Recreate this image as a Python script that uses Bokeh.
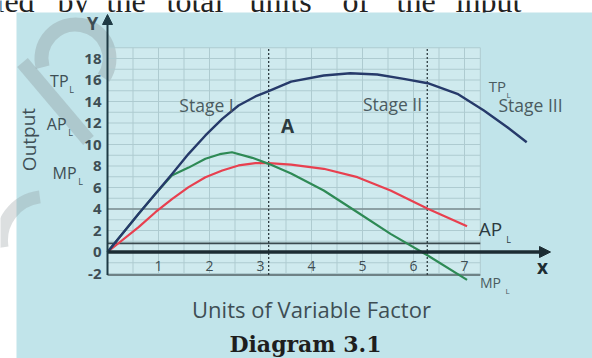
from bokeh.plotting import figure
from bokeh.models import Arrow, NormalHead
from bokeh.core.properties import value
from bokeh.embed import file_html
from bokeh.resources import INLINE

# ---------------- data ----------------
tp_x = [0, 0.61, 0.94, 1.27, 1.59, 1.92, 2.25, 2.57, 2.90, 3.16, 3.6, 4.24, 4.76, 5.29, 5.81, 6.28, 6.86, 7.38, 7.84, 8.22]
tp_y = [0, 3.55, 5.41, 7.27, 9.13, 10.84, 12.39, 13.63, 14.47, 14.96, 15.85, 16.42, 16.63, 16.51, 16.11, 15.70, 14.72, 13.16, 11.61, 10.21]

mp_x = [0, 0.61, 0.94, 1.27, 1.59, 1.92, 2.2, 2.44, 2.84, 3.16, 3.6, 4.24, 4.9, 5.55, 6.28, 7.05]
mp_y = [0, 3.55, 5.41, 7.15, 7.85, 8.67, 9.1, 9.28, 8.76, 8.2, 7.3, 5.72, 3.70, 1.69, -0.33, -2.59]

ap_x = [0, 0.61, 0.94, 1.27, 1.59, 1.92, 2.25, 2.57, 2.90, 3.16, 3.6, 4.24, 4.90, 5.55, 6.28, 7.05]
ap_y = [0, 2.31, 3.70, 4.95, 6.03, 6.96, 7.58, 8.05, 8.26, 8.26, 8.12, 7.74, 6.96, 5.72, 4.02, 2.40]

y_ticks = [18, 16, 14, 12, 10, 8, 6, 4, 2, 0, -2]
y_tick_labels = ["18", "16", "14", "12", "10", "8", "6", "4", "2", "0", "-2"]
x_ticks = [1, 2, 3, 4, 5, 6, 7]
x_tick_labels = ["1", "2", "3", "4", "5", "6", "7"]

stage_bounds = [3.16, 6.27]
grid_rows = list(range(-2, 20))
grid_cols = [0.5 * i for i in range(1, 15)] + [7.31]
ref_levels = [4, 0.8, -2.15]

header_words = ["ied", "by", "the", "total", "units", "of", "the", "input"]
header_px = [-5, 57, 106, 166, 249, 342, 396, 455]

# ---------------- geometry (pixel -> data) ----------------
PX0, PXU = 107.0, 51.0
PY0, PYU = 251.5, 10.75
def dx(px):
    return (px - PX0) / PXU
def dy(py):
    return (PY0 - py) / PYU

W, H = 592, 358
p = figure(width=W, height=H, output_backend="svg", toolbar_location=None,
           x_range=(dx(0), dx(W)), y_range=(dy(H), dy(0)),
           x_axis_type=None, y_axis_type=None, min_border=0,
           outline_line_color=None, background_fill_color="white",
           border_fill_color="white")

BG = "#c1e4ea"
INNER = "#cfeaee"
GRID = "#aecbd0"
TXT = "#3e4e54"
FONT = value("Open Sans")

# header text (cropped line of book text), drawn first so the panel covers its descenders
p.text(x=[dx(v) for v in header_px], y=[dy(0)] * len(header_words), text=header_words,
       text_font=value("Liberation Serif"), text_font_size="32px",
       text_color="#222222", text_baseline="middle", text_align="left")

# background panel
p.quad(left=[dx(16)], right=[dx(620)], bottom=[dy(400)], top=[dy(12)],
       fill_color=BG, line_color=None)
# lighter grid area
p.quad(left=[0], right=[7.31], bottom=[-2.15], top=[19],
       fill_color=INNER, line_color=None)

# watermark
p.arc(x=[dx(75)], y=[dy(58)], radius=34, radius_units="screen",
      start_angle=-0.6, end_angle=3.4, line_width=14, line_color="#8a9597", line_alpha=0.35)
p.line(x=[dx(22), dx(88)], y=[dy(62), dy(140)], line_width=14, line_color="#8a9597", line_alpha=0.35)
p.arc(x=[dx(45)], y=[dy(240)], radius=44, radius_units="screen",
      start_angle=1.7, end_angle=3.3, line_width=13, line_color="#8a9597", line_alpha=0.3)

# grid lines
p.segment(x0=[0] * len(grid_rows), x1=[7.31] * len(grid_rows), y0=grid_rows, y1=grid_rows,
          line_color=GRID, line_width=1)
p.segment(x0=grid_cols, x1=grid_cols, y0=[-2.15] * len(grid_cols), y1=[19] * len(grid_cols),
          line_color=GRID, line_width=1)

# reference lines
p.segment(x0=[0] * 3, x1=[7.31] * 3, y0=ref_levels, y1=ref_levels,
          line_color=["#7b8d91", "#3b4a4f", "#6f8286"], line_width=[1.6, 1.6, 2])

# stage boundaries
p.segment(x0=stage_bounds, x1=stage_bounds, y0=[-2.15] * 2, y1=[19] * 2,
          line_color="#2f3d42", line_width=1.3, line_dash="2 2")

# curves
p.line(ap_x, ap_y, line_color="#e8404f", line_width=2.2, line_join="round")
p.line(mp_x, mp_y, line_color="#2e8a55", line_width=2.2, line_join="round")
p.line(tp_x, tp_y, line_color="#263a6a", line_width=2.4, line_join="round")

# axes with arrows
p.add_layout(Arrow(end=NormalHead(size=11, fill_color="#1c2c33", line_color="#1c2c33"),
                   x_start=0, y_start=0, x_end=dx(550), y_end=0,
                   line_color="#1c2c33", line_width=3.5))
p.add_layout(Arrow(end=NormalHead(size=10, fill_color="#1f3a44", line_color="#1f3a44"),
                   x_start=0, y_start=-2.15, x_end=0, y_end=dy(14),
                   line_color="#1f3a44", line_width=2))

# tick labels
p.text(x=[dx(101)] * len(y_ticks), y=y_ticks, text=y_tick_labels, text_font=FONT,
       text_font_style="bold", text_font_size="15px", text_color=TXT,
       text_align="right", text_baseline="middle")
p.text(x=x_ticks, y=[dy(265)] * len(x_ticks), text=x_tick_labels, text_font=FONT,
       text_font_size="14px", text_color=TXT, text_align="center", text_baseline="middle")

# axis letters
p.text(x=[dx(92)], y=[dy(22)], text=["Y"], text_font=FONT, text_font_style="bold",
       text_font_size="18px", text_color=TXT, text_align="center", text_baseline="middle")
p.text(x=[dx(542)], y=[dy(266)], text=["x"], text_font=FONT, text_font_style="bold",
       text_font_size="19px", text_color="#1c2c33", text_align="center", text_baseline="middle")

# left labels
p.text(x=[dx(28)], y=[dy(139)], text=["Output"], angle=1.5708, text_font=FONT,
       text_font_size="19px", text_color=TXT, text_align="center", text_baseline="middle")
p.text(x=[dx(68), dx(66), dx(76)], y=[dy(80), dy(123), dy(172)], text=["TP", "AP", "MP"],
       text_font=FONT, text_font_size="16px", text_color=TXT,
       text_align="right", text_baseline="middle")
p.text(x=[dx(71), dx(70), dx(80)], y=[dy(89), dy(132), dy(181)], text=["L", "L", "L"],
       text_font=FONT, text_font_size="9px", text_color=TXT,
       text_align="center", text_baseline="middle")

# in-plot labels
p.text(x=[dx(206), dx(392), dx(530)], y=[dy(104), dy(103), dy(104)],
       text=["Stage I", "Stage II", "Stage III"], text_font=FONT, text_font_size="17.5px",
       text_color="#4a5b60", text_align="center", text_baseline="middle")
p.text(x=[dx(287)], y=[dy(125)], text=["A"], text_font=FONT, text_font_style="bold",
       text_font_size="19px", text_color="#2c3a3f", text_align="center", text_baseline="middle")
p.text(x=[dx(497)], y=[dy(85)], text=["TP"], text_font=FONT, text_font_size="15px",
       text_color="#4a5b60", text_align="center", text_baseline="middle")
p.text(x=[dx(508)], y=[dy(94)], text=["L"], text_font=FONT, text_font_size="8px",
       text_color="#4a5b60", text_align="center", text_baseline="middle")
p.text(x=[dx(490)], y=[dy(228)], text=["AP"], text_font=FONT, text_font_size="19px",
       text_color="#2c3a3f", text_align="center", text_baseline="middle")
p.text(x=[dx(508)], y=[dy(239)], text=["L"], text_font=FONT, text_font_size="9px",
       text_color="#2c3a3f", text_align="center", text_baseline="middle")
p.text(x=[dx(490)], y=[dy(282)], text=["MP"], text_font=FONT, text_font_size="14px",
       text_color="#4a5b60", text_align="center", text_baseline="middle")
p.text(x=[dx(507)], y=[dy(290)], text=["L"], text_font=FONT, text_font_size="8px",
       text_color="#4a5b60", text_align="center", text_baseline="middle")

# titles
p.text(x=[dx(311)], y=[dy(308)], text=["Units of Variable Factor"], text_font=FONT,
       text_font_size="22px", text_color=TXT, text_align="center", text_baseline="middle")
p.text(x=[dx(305)], y=[dy(343)], text=["Diagram 3.1"], text_font=value("DejaVu Serif"),
       text_font_style="bold", text_font_size="22px", text_color="#1e1e1e",
       text_align="center", text_baseline="middle")

open("out.html", "w").write(file_html(p, INLINE))
